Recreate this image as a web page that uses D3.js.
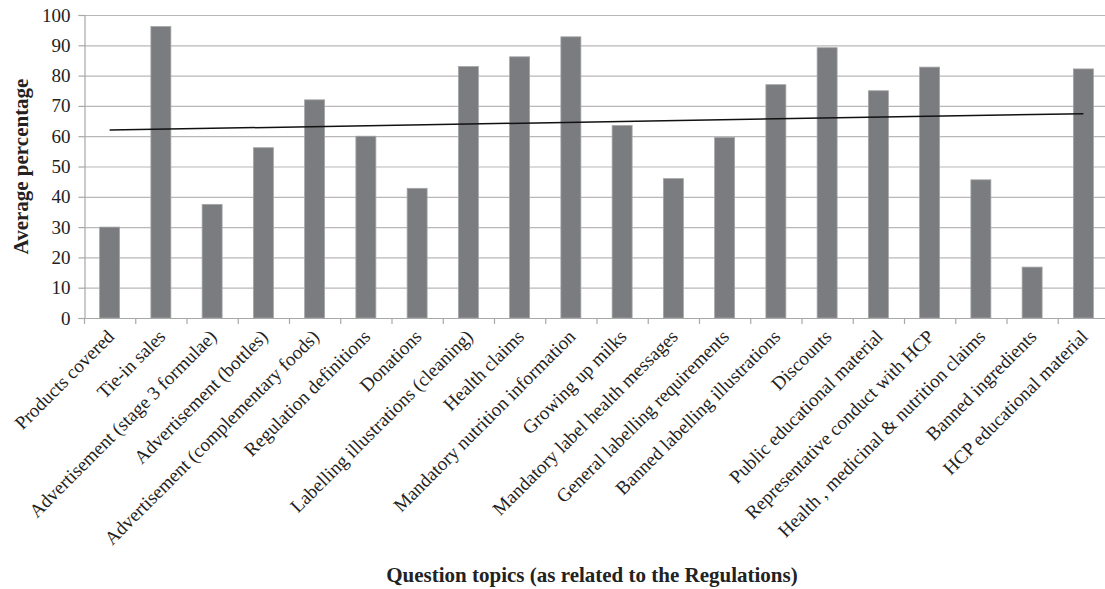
<!DOCTYPE html>
<html>
<head>
<meta charset="utf-8">
<script src="https://cdn.jsdelivr.net/npm/d3@7"></script>
<style>
  html, body { margin: 0; padding: 0; background: #fff; }
  svg { display: block; }
  text { font-family: "Liberation Serif", "Times New Roman", serif; fill: #222; }
</style>
</head>
<body>
<svg id="chart" width="1105" height="589"></svg>
<script>
const categories = [
  "Products covered",
  "Tie-in sales",
  "Advertisement (stage 3 formulae)",
  "Advertisement (bottles)",
  "Advertisement (complementary foods)",
  "Regulation definitions",
  "Donations",
  "Labelling illustrations (cleaning)",
  "Health claims",
  "Mandatory nutrition information",
  "Growing up milks",
  "Mandatory label health messages",
  "General labelling requirements",
  "Banned labelling illustrations",
  "Discounts",
  "Public educational material",
  "Representative conduct with HCP",
  "Health , medicinal & nutrition claims",
  "Banned ingredients",
  "HCP educational material"
];
const values = [30, 96.2, 37.5, 56.2, 72, 60, 42.8, 83, 86.2, 92.8, 63.5, 46, 59.6, 77, 89.2, 75, 82.8, 45.6, 16.8, 82.2];
const yTicks = [0, 10, 20, 30, 40, 50, 60, 70, 80, 90, 100];
const yTitle = "Average percentage";
const xTitle = "Question topics (as related to the Regulations)";

const svg = d3.select("#chart");
const mLeft = 84, mRight = 1109, mTop = 15, mBottom = 318;

const x = d3.scaleBand().domain(categories).range([mLeft, mRight]).paddingInner(0.61).paddingOuter(0.305);
const xb = d3.scaleBand().domain(categories).range([mLeft, mRight]);
const y = d3.scaleLinear().domain([0, 100]).range([mBottom, mTop]);

// gridlines
svg.append("g").selectAll("line").data(yTicks).join("line")
  .attr("x1", mLeft).attr("x2", mRight)
  .attr("y1", d => y(d) + 0.5).attr("y2", d => y(d) + 0.5)
  .attr("stroke", "#b8b8b8").attr("stroke-width", 1.2);

// bars
svg.append("g").selectAll("rect").data(values).join("rect")
  .attr("x", (d, i) => x(categories[i]))
  .attr("width", x.bandwidth())
  .attr("y", d => y(d))
  .attr("height", d => y(0) - y(d))
  .attr("fill", "#7b7c80")
  .attr("stroke", "#a5a5a5").attr("stroke-width", 0.8);

// y axis
const yAxis = d3.axisLeft(y).tickValues(yTicks).tickSize(6).tickPadding(8);
const gy = svg.append("g").attr("transform", `translate(${mLeft + 0.5},0)`).call(yAxis);
gy.select(".domain").attr("stroke", "#a8a8a8").attr("stroke-width", 1.2);
gy.selectAll(".tick line").attr("stroke", "#a8a8a8").attr("stroke-width", 1.2);
gy.selectAll(".tick text").attr("font-size", 19).attr("font-family", "Liberation Serif").attr("fill", "#222");

// x axis line and ticks at band boundaries
svg.append("line").attr("x1", mLeft).attr("x2", mRight)
  .attr("y1", mBottom + 0.5).attr("y2", mBottom + 0.5)
  .attr("stroke", "#a8a8a8").attr("stroke-width", 1.2);
svg.append("g").selectAll("line").data(categories).join("line")
  .attr("x1", d => xb(d) + 0.5).attr("x2", d => xb(d) + 0.5)
  .attr("y1", mBottom).attr("y2", mBottom + 6)
  .attr("stroke", "#a8a8a8").attr("stroke-width", 1.2);

// category labels
svg.append("g").selectAll("text").data(categories).join("text")
  .attr("transform", d => `translate(${xb(d) + xb.bandwidth() / 2 + 1},${mBottom + 15}) rotate(-45)`)
  .attr("text-anchor", "end")
  .attr("dy", "0.35em")
  .attr("font-size", 19)
  .text(d => d);

// linear trend line (least squares)
const n = values.length;
const xs = d3.range(1, n + 1);
const mx = d3.mean(xs), my = d3.mean(values);
const slope = d3.sum(xs, (xi, i) => (xi - mx) * (values[i] - my)) / d3.sum(xs, xi => (xi - mx) ** 2);
const intercept = my - slope * mx;
const trend = [1, n].map(xi => [xb(categories[xi - 1]) + xb.bandwidth() / 2, y(intercept + slope * xi)]);
svg.append("path").attr("d", d3.line()(trend))
  .attr("stroke", "#111").attr("stroke-width", 1.5).attr("fill", "none");

// axis titles
svg.append("text").attr("transform", `translate(28,${(mTop + mBottom) / 2}) rotate(-90)`)
  .attr("text-anchor", "middle").attr("font-weight", "bold").attr("font-size", 21)
  .text(yTitle);
svg.append("text").attr("x", 592).attr("y", 582)
  .attr("text-anchor", "middle").attr("font-weight", "bold").attr("font-size", 21)
  .text(xTitle);
</script>
</body>
</html>
